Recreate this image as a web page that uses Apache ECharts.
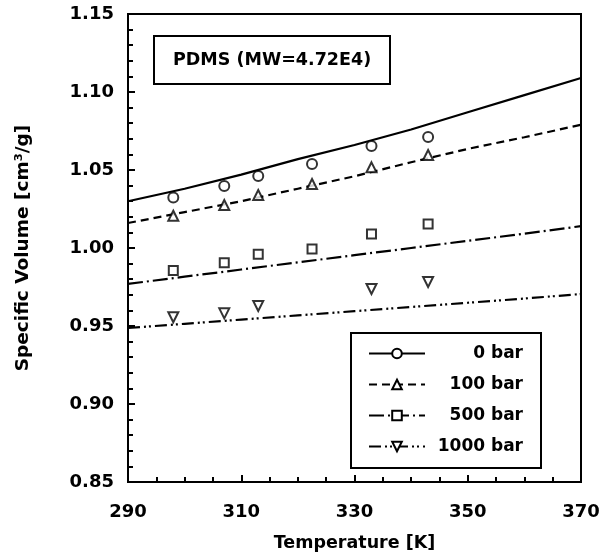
<!DOCTYPE html>
<html><head><meta charset="utf-8">
<script src="https://cdn.jsdelivr.net/npm/echarts@6/dist/echarts.min.js"></script>
<style>html,body{margin:0;padding:0;background:#fff}#c{width:599px;height:557px}</style>
</head><body><div id="c"></div>
<script>
// Measured data (temperature K, specific volume cm3/g)
const dataT = [298, 307, 313, 322.5, 333, 343];
const v0 = [1.0324, 1.0397, 1.0462, 1.0538, 1.0654, 1.0712];
const v100 = [1.0207, 1.0276, 1.0340, 1.0410, 1.0517, 1.0596];
const v500 = [0.9855, 0.9906, 0.9960, 0.9994, 1.0090, 1.0154];
const v1000 = [0.9556, 0.9581, 0.9628, null, 0.9737, 0.9782];
// Model curves
const modelT = [290, 300, 310, 320, 330, 340, 350, 360, 370];
const m0 = [1.030, 1.038, 1.047, 1.057, 1.066, 1.076, 1.087, 1.098, 1.109];
const m100 = [1.016, 1.023, 1.030, 1.038, 1.046, 1.055, 1.0635, 1.071, 1.079];
const m500 = [0.977, 0.9816, 0.9862, 0.9908, 0.9954, 1.0000, 1.0046, 1.0092, 1.014];
const m1000 = [0.9487, 0.9514, 0.9541, 0.9568, 0.9595, 0.9622, 0.9649, 0.9676, 0.9705];
const names = ['0 bar', '100 bar', '500 bar', '1000 bar'];
const xTicks = {min: 290, max: 370, step: 20};
const yTicks = {min: 0.85, max: 1.15, step: 0.05};

const zip = (a, b) => a.map((x, i) => [x, b[i]]).filter(p => p[1] !== null);
const font = '"DejaVu Sans", sans-serif';
const models = [m0, m100, m500, m1000];
const meas = [v0, v100, v500, v1000];
const dashes = ['solid', [8, 5], [15, 4, 2, 4], [12, 4, 2, 3, 2, 4]];
const syms = ['emptyCircle', 'emptyTriangle', 'emptyRect', 'emptyTriangle'];
const rots = [0, 0, 0, 180];
const sizes = [10, 10, 9, 10];

const series = [];
names.forEach((n, i) => {
  series.push({
    name: n, type: 'line', data: zip(modelT, models[i]),
    showSymbol: false, symbol: syms[i], symbolRotate: rots[i], symbolSize: sizes[i],
    color: '#000', lineStyle: {color: '#000', width: 2.2, type: dashes[i]},
    itemStyle: {color: '#000'}, z: 2
  });
  series.push({
    name: n + ' data', type: 'scatter', data: zip(dataT, meas[i]),
    symbol: syms[i], symbolRotate: rots[i], symbolSize: sizes[i],
    itemStyle: {color: '#000', borderColor: '#000', borderWidth: 2}, z: 3
  });
});

const chart = echarts.init(document.getElementById('c'));
chart.setOption({
  animation: false,
  backgroundColor: '#fff',
  title: {
    text: 'PDMS (MW=4.72E4)', left: 154, top: 36,
    padding: [15, 19, 15, 19], borderColor: '#000', borderWidth: 2,
    textStyle: {fontFamily: font, fontWeight: 'bold', fontSize: 17.5, color: '#000'}
  },
  legend: {
    data: names, orient: 'vertical', left: 351, top: 333,
    padding: [12, 18, 13, 17], itemGap: 14, itemWidth: 56, itemHeight: 12,
    borderColor: '#000', borderWidth: 2, selectedMode: false,
    formatter: n => '{a|' + n + '}',
    textStyle: {fontFamily: font, fontWeight: 'bold', fontSize: 17, color: '#000',
      rich: {a: {width: 93, align: 'right', lineHeight: 18, fontFamily: font, fontWeight: 'bold', fontSize: 17, color: '#000'}}}
  },
  grid: {left: 128, right: 18, top: 14, bottom: 75, show: true, borderColor: '#000', borderWidth: 2,
    outerBoundsMode: 'none', containLabel: false},
  xAxis: {
    type: 'value', min: xTicks.min, max: xTicks.max, interval: xTicks.step,
    name: 'Temperature [K]', nameLocation: 'middle', nameGap: 52,
    nameTextStyle: {fontFamily: font, fontWeight: 'bold', fontSize: 17.5, color: '#000'},
    axisLine: {lineStyle: {color: '#000', width: 2}},
    axisTick: {inside: true, length: 7, lineStyle: {color: '#000', width: 2}},
    minorTick: {show: true, splitNumber: 4, length: 5, lineStyle: {color: '#000', width: 2}},
    splitLine: {show: false},
    axisLabel: {margin: 21, fontFamily: font, fontWeight: 'bold', fontSize: 18, color: '#000'}
  },
  yAxis: {
    type: 'value', min: yTicks.min, max: yTicks.max, interval: yTicks.step,
    name: 'Specific Volume [cm³/g]', nameLocation: 'middle', nameGap: 95,
    nameTextStyle: {fontFamily: font, fontWeight: 'bold', fontSize: 18.5, color: '#000'},
    axisLine: {lineStyle: {color: '#000', width: 2}},
    axisTick: {inside: true, length: 7, lineStyle: {color: '#000', width: 2}},
    minorTick: {show: true, splitNumber: 5, length: 5, lineStyle: {color: '#000', width: 2}},
    splitLine: {show: false},
    axisLabel: {margin: 14, fontFamily: font, fontWeight: 'bold', fontSize: 18, color: '#000',
      formatter: v => v.toFixed(2)}
  },
  series: series
});
</script></body></html>
